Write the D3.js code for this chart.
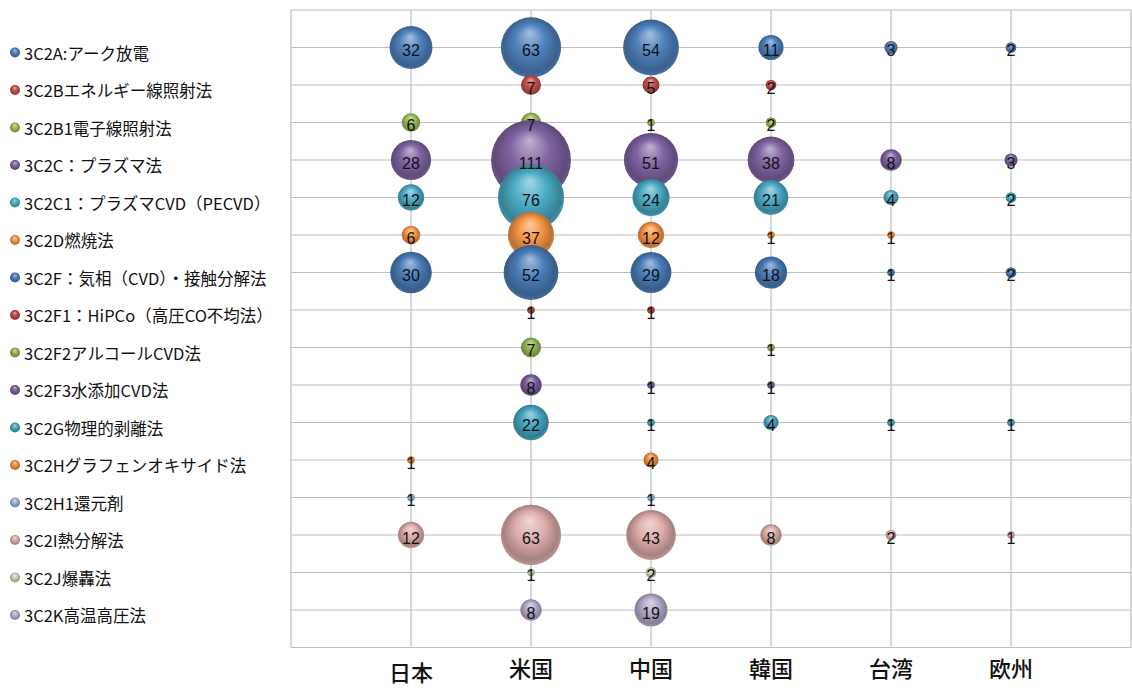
<!DOCTYPE html>
<html>
<head>
<meta charset="utf-8">
<script src="https://cdn.jsdelivr.net/npm/d3@7"></script>
<style>
  html, body { margin: 0; padding: 0; background: #fff; }
  svg { display: block; }
</style>
</head>
<body>
<svg id="chart" width="1132" height="688"></svg>
<script>
// Technology categories (top to bottom)
const categories = [
  "3C2A:アーク放電",
  "3C2Bエネルギー線照射法",
  "3C2B1電子線照射法",
  "3C2C：プラズマ法",
  "3C2C1：プラズマCVD（PECVD）",
  "3C2D燃焼法",
  "3C2F：気相（CVD）・接触分解法",
  "3C2F1：HiPCo（高圧CO不均法）",
  "3C2F2アルコールCVD法",
  "3C2F3水添加CVD法",
  "3C2G物理的剥離法",
  "3C2Hグラフェンオキサイド法",
  "3C2H1還元剤",
  "3C2I熱分解法",
  "3C2J爆轟法",
  "3C2K高温高圧法"
];

// Countries / regions along the x axis
const countries = ["日本", "米国", "中国", "韓国", "台湾", "欧州"];

// Counts per category, one value per country (null = none)
const v3C2A  = [32, 63, 54, 11, 3, 2];
const v3C2B  = [null, 7, 5, 2, null, null];
const v3C2B1 = [6, 7, 1, 2, null, null];
const v3C2C  = [28, 111, 51, 38, 8, 3];
const v3C2C1 = [12, 76, 24, 21, 4, 2];
const v3C2D  = [6, 37, 12, 1, 1, null];
const v3C2F  = [30, 52, 29, 18, 1, 2];
const v3C2F1 = [null, 1, 1, null, null, null];
const v3C2F2 = [null, 7, null, 1, null, null];
const v3C2F3 = [null, 8, 1, 1, null, null];
const v3C2G  = [null, 22, 1, 4, 1, 1];
const v3C2H  = [1, null, 4, null, null, null];
const v3C2H1 = [1, null, 1, null, null, null];
const v3C2I  = [12, 63, 43, 8, 2, 1];
const v3C2J  = [null, 1, 2, null, null, null];
const v3C2K  = [null, 8, 19, null, null, null];

const seriesValues = [v3C2A, v3C2B, v3C2B1, v3C2C, v3C2C1, v3C2D, v3C2F, v3C2F1,
                      v3C2F2, v3C2F3, v3C2G, v3C2H, v3C2H1, v3C2I, v3C2J, v3C2K];

const seriesColors = [
  "#4F81BD", "#C0504D", "#9BBB59", "#8064A2", "#4BACC6", "#F79646",
  "#4A7DB8", "#B84A47", "#93B355", "#7A5F9C", "#46A6C0", "#EE8E40",
  "#98B1D4", "#DDADAC", "#C4D5B3", "#B3AACA"
];

const svg = d3.select("#chart");
const defs = svg.append("defs");

const plot = { left: 291, right: 1131, top: 10, bottom: 647.5 };

const x = d3.scaleLinear().domain([0, 7]).range([plot.left, plot.right]);
const y = d3.scaleLinear().domain([0, 17]).range([plot.bottom, plot.top]);
const r = d3.scaleSqrt().domain([0, 111]).range([0, 40]);

// Glossy sphere gradients
seriesColors.forEach((c, i) => {
  const base = d3.color(c);
  const g = defs.append("radialGradient")
    .attr("id", "g" + i)
    .attr("cx", "50%").attr("cy", "50%").attr("r", "55%")
    .attr("fx", "48%").attr("fy", "25%");
  g.append("stop").attr("offset", "0%").attr("stop-color", d3.interpolateRgb(base, "#fff")(0.5));
  g.append("stop").attr("offset", "45%").attr("stop-color", base.formatHex());
  g.append("stop").attr("offset", "82%").attr("stop-color", base.darker(0.8).formatHex());
  g.append("stop").attr("offset", "100%").attr("stop-color", base.darker(0.25).formatHex());
});

// Gridlines
const grid = svg.append("g").attr("stroke", "#BEBEBE").attr("stroke-width", 1.2);
d3.range(0, 18).forEach(k => {
  grid.append("line")
    .attr("x1", plot.left).attr("x2", plot.right)
    .attr("y1", y(k)).attr("y2", y(k));
});
d3.range(0, 8).forEach(k => {
  grid.append("line")
    .attr("x1", x(k)).attr("x2", x(k))
    .attr("y1", plot.top).attr("y2", plot.bottom);
});

// Flatten to points
const points = [];
seriesValues.forEach((vals, si) => {
  vals.forEach((v, ci) => {
    if (v != null) points.push({ si, ci, v, row: 16 - si, col: ci + 1 });
  });
});

// Bubbles, drawn series by series
const bubbles = svg.append("g");
seriesValues.forEach((vals, si) => {
  const pts = points.filter(p => p.si === si).sort((a, b) => b.v - a.v);
  bubbles.selectAll(null).data(pts).enter().append("circle")
    .attr("cx", d => x(d.col))
    .attr("cy", d => y(d.row))
    .attr("r", d => r(d.v))
    .attr("fill", "url(#g" + si + ")");
});

// Value labels
svg.append("g").selectAll("text").data(points).enter().append("text")
  .attr("x", d => x(d.col))
  .attr("y", d => y(d.row) + 3)
  .attr("text-anchor", "middle")
  .attr("dominant-baseline", "central")
  .attr("font-family", "'Liberation Sans', Arial, sans-serif")
  .attr("font-size", 16)
  .attr("fill", "#111")
  .text(d => d.v);

// Country labels
svg.append("g").selectAll("text").data(countries).enter().append("text")
  .attr("x", (d, i) => x(i + 1))
  .attr("y", (d, i) => i === 0 ? 681 : 677)
  .attr("text-anchor", "middle")
  .attr("font-family", "'Noto Sans CJK JP', sans-serif")
  .attr("font-weight", 500)
  .attr("font-size", 22)
  .attr("fill", "#111")
  .text(d => d);

// Legend
const legend = svg.append("g");
categories.forEach((c, i) => {
  const ly = y(16 - i) + 5;
  legend.append("circle")
    .attr("cx", 15).attr("cy", ly).attr("r", 5)
    .attr("fill", "url(#g" + i + ")");
  legend.append("text")
    .attr("x", 24).attr("y", ly)
    .attr("dominant-baseline", "central")
    .attr("font-family", "'Noto Sans CJK JP', sans-serif")
    .attr("font-size", 16.5)
    .attr("fill", "#111")
    .text(c);
});
</script>
</body>
</html>
